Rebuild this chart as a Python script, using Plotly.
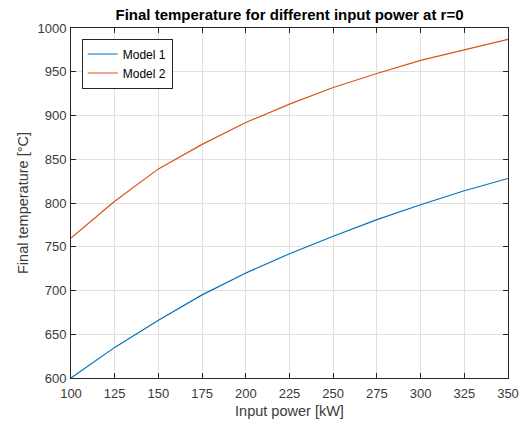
import plotly.graph_objects as go

# Input power levels [kW]
power_kw = [100, 125, 150, 175, 200, 225, 250, 275, 300, 325, 350]

# Final temperature at r=0 [°C]
model1_temp = [600, 635, 666, 695, 720, 742, 762, 781, 798, 814, 828]
model2_temp = [760, 802, 839, 867, 892, 913, 932, 948, 963, 975, 987]

x_ticks = [100, 125, 150, 175, 200, 225, 250, 275, 300, 325, 350]
y_ticks = [600, 650, 700, 750, 800, 850, 900, 950, 1000]

FONT = "Liberation Sans, Arial, Helvetica, sans-serif"
AX = "#262626"
LABEL = "#3a3a3a"

fig = go.Figure()
fig.add_trace(go.Scatter(x=power_kw, y=model1_temp, mode="lines", name="Model 1",
                         line=dict(color="#0072BD", width=1.2)))
fig.add_trace(go.Scatter(x=power_kw, y=model2_temp, mode="lines", name="Model 2",
                         line=dict(color="#D95319", width=1.2)))

axis_common = dict(
    showline=True, linecolor=AX, linewidth=1, mirror="ticks",
    ticks="inside", ticklen=5, tickcolor=AX, tickwidth=1,
    showgrid=True, gridcolor="#e0e0e0", gridwidth=1,
    zeroline=False, automargin=False,
    tickfont=dict(family=FONT, size=13, color=LABEL),
)

fig.update_layout(
    width=528, height=425,
    margin=dict(l=71, r=20, t=28, b=47, autoexpand=False),
    paper_bgcolor="white", plot_bgcolor="white",
    font=dict(family=FONT, color=AX),
    title=dict(text="<b>Final temperature for different input power at r=0</b>",
               x=0.5, xanchor="center", xref="paper", y=0.965, yanchor="middle",
               font=dict(family=FONT, size=15, color="#000000")),
    xaxis=dict(range=[100, 350], tickvals=x_ticks, ticklabelstandoff=3,
               title=dict(text="Input power [kW]", standoff=6,
                          font=dict(family=FONT, size=14.5, color=LABEL)),
               **axis_common),
    yaxis=dict(range=[600, 1000], tickvals=y_ticks, ticklabelstandoff=1,
               title=dict(text="Final temperature [°C]", standoff=5,
                          font=dict(family=FONT, size=14.5, color=LABEL)),
               **axis_common),
    legend=dict(x=0.0245, y=0.97, xanchor="left", yanchor="top",
                bgcolor="white", bordercolor="#262626", borderwidth=1,
                font=dict(family=FONT, size=12, color="#000000"),
                itemwidth=30, tracegroupgap=0),
    showlegend=True,
)

fig.write_html("out.html")
